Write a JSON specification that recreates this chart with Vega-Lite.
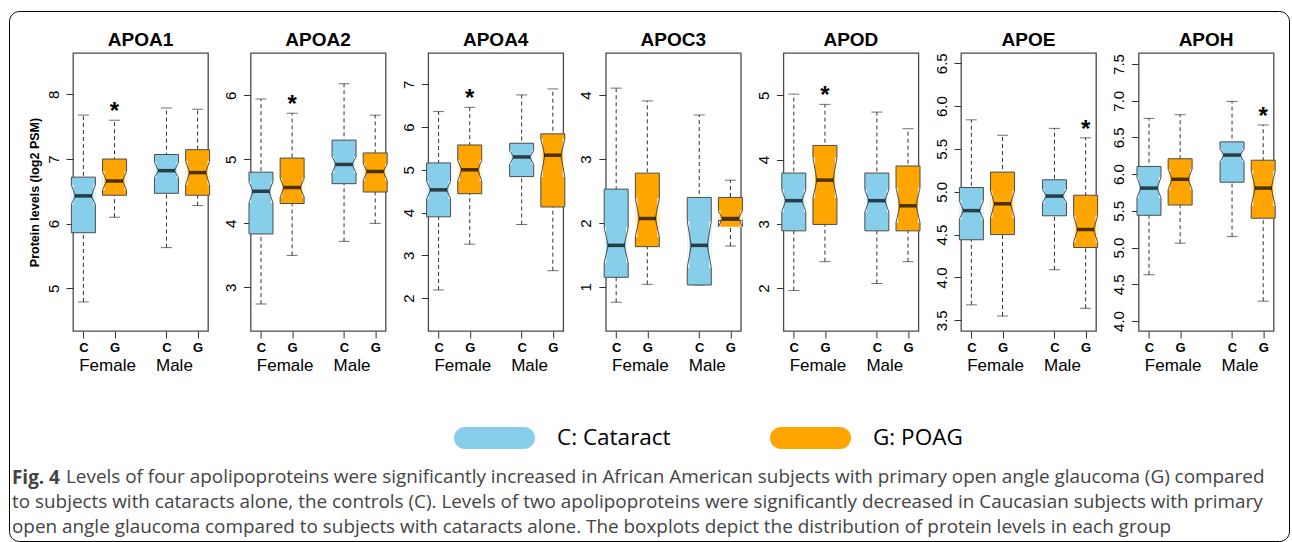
{
"$schema":"https://vega.github.io/schema/vega-lite/v6.json",
"padding":{"left":8,"top":10,"right":0,"bottom":0},
"background":"white",
"datasets":{"apo":[
{"gene":"APOA1","sex":"Female","grp":"C","box":"Female C","lo":4.79,"q1":5.86,"nlo":6.30,"med":6.43,"nhi":6.60,"q3":6.72,"hi":7.68,"sig":false},
{"gene":"APOA1","sex":"Female","grp":"G","box":"Female G","lo":6.10,"q1":6.44,"nlo":6.52,"med":6.66,"nhi":6.81,"q3":7.00,"hi":7.60,"sig":true},
{"gene":"APOA1","sex":"Male","grp":"C","box":"Male C","lo":5.63,"q1":6.47,"nlo":6.71,"med":6.82,"nhi":6.95,"q3":7.07,"hi":7.79,"sig":false},
{"gene":"APOA1","sex":"Male","grp":"G","box":"Male G","lo":6.28,"q1":6.44,"nlo":6.60,"med":6.79,"nhi":6.97,"q3":7.145,"hi":7.77,"sig":false},
{"gene":"APOA2","sex":"Female","grp":"C","box":"Female C","lo":2.74,"q1":3.835,"nlo":4.32,"med":4.50,"nhi":4.65,"q3":4.80,"hi":5.94,"sig":false},
{"gene":"APOA2","sex":"Female","grp":"G","box":"Female G","lo":3.50,"q1":4.31,"nlo":4.41,"med":4.56,"nhi":4.70,"q3":5.02,"hi":5.72,"sig":true},
{"gene":"APOA2","sex":"Male","grp":"C","box":"Male C","lo":3.72,"q1":4.62,"nlo":4.79,"med":4.92,"nhi":5.04,"q3":5.30,"hi":6.18,"sig":false},
{"gene":"APOA2","sex":"Male","grp":"G","box":"Male G","lo":4.00,"q1":4.49,"nlo":4.67,"med":4.81,"nhi":4.93,"q3":5.10,"hi":5.69,"sig":false},
{"gene":"APOA4","sex":"Female","grp":"C","box":"Female C","lo":2.19,"q1":3.90,"nlo":4.32,"med":4.53,"nhi":4.73,"q3":5.16,"hi":6.36,"sig":false},
{"gene":"APOA4","sex":"Female","grp":"G","box":"Female G","lo":3.26,"q1":4.44,"nlo":4.74,"med":5.00,"nhi":5.22,"q3":5.58,"hi":6.46,"sig":true},
{"gene":"APOA4","sex":"Male","grp":"C","box":"Male C","lo":3.72,"q1":4.84,"nlo":5.12,"med":5.30,"nhi":5.45,"q3":5.62,"hi":6.75,"sig":false},
{"gene":"APOA4","sex":"Male","grp":"G","box":"Male G","lo":2.64,"q1":4.13,"nlo":4.83,"med":5.34,"nhi":5.72,"q3":5.84,"hi":6.89,"sig":false},
{"gene":"APOC3","sex":"Female","grp":"C","box":"Female C","lo":0.76,"q1":1.15,"nlo":1.38,"med":1.65,"nhi":1.93,"q3":2.53,"hi":4.11,"sig":false},
{"gene":"APOC3","sex":"Female","grp":"G","box":"Female G","lo":1.04,"q1":1.63,"nlo":1.78,"med":2.07,"nhi":2.385,"q3":2.78,"hi":3.91,"sig":false},
{"gene":"APOC3","sex":"Male","grp":"C","box":"Male C","lo":1.03,"q1":1.03,"nlo":1.30,"med":1.65,"nhi":2.03,"q3":2.40,"hi":3.69,"sig":false},
{"gene":"APOC3","sex":"Male","grp":"G","box":"Male G","lo":1.64,"q1":2.04,"nlo":1.94,"med":2.07,"nhi":2.19,"q3":2.40,"hi":2.67,"sig":false},
{"gene":"APOD","sex":"Female","grp":"C","box":"Female C","lo":1.96,"q1":2.89,"nlo":3.19,"med":3.36,"nhi":3.53,"q3":3.79,"hi":5.02,"sig":false},
{"gene":"APOD","sex":"Female","grp":"G","box":"Female G","lo":2.41,"q1":2.99,"nlo":3.40,"med":3.68,"nhi":4.03,"q3":4.22,"hi":4.86,"sig":true},
{"gene":"APOD","sex":"Male","grp":"C","box":"Male C","lo":2.07,"q1":2.89,"nlo":3.18,"med":3.36,"nhi":3.53,"q3":3.79,"hi":4.74,"sig":false},
{"gene":"APOD","sex":"Male","grp":"G","box":"Male G","lo":2.41,"q1":2.89,"nlo":3.02,"med":3.28,"nhi":3.56,"q3":3.90,"hi":4.48,"sig":false},
{"gene":"APOE","sex":"Female","grp":"C","box":"Female C","lo":3.68,"q1":4.44,"nlo":4.68,"med":4.78,"nhi":4.895,"q3":5.05,"hi":5.84,"sig":false},
{"gene":"APOE","sex":"Female","grp":"G","box":"Female G","lo":3.55,"q1":4.50,"nlo":4.70,"med":4.86,"nhi":5.01,"q3":5.23,"hi":5.66,"sig":false},
{"gene":"APOE","sex":"Male","grp":"C","box":"Male C","lo":4.09,"q1":4.72,"nlo":4.875,"med":4.95,"nhi":5.03,"q3":5.14,"hi":5.74,"sig":false},
{"gene":"APOE","sex":"Male","grp":"G","box":"Male G","lo":3.64,"q1":4.35,"nlo":4.41,"med":4.56,"nhi":4.72,"q3":4.96,"hi":5.63,"sig":true},
{"gene":"APOH","sex":"Female","grp":"C","box":"Female C","lo":4.63,"q1":5.44,"nlo":5.68,"med":5.81,"nhi":5.955,"q3":6.105,"hi":6.76,"sig":false},
{"gene":"APOH","sex":"Female","grp":"G","box":"Female G","lo":5.06,"q1":5.58,"nlo":5.79,"med":5.93,"nhi":6.07,"q3":6.21,"hi":6.81,"sig":false},
{"gene":"APOH","sex":"Male","grp":"C","box":"Male C","lo":5.15,"q1":5.89,"nlo":6.17,"med":6.26,"nhi":6.34,"q3":6.44,"hi":6.99,"sig":false},
{"gene":"APOH","sex":"Male","grp":"G","box":"Male G","lo":4.27,"q1":5.40,"nlo":5.57,"med":5.81,"nhi":6.045,"q3":6.19,"hi":6.67,"sig":true}
]},
"data":{"name":"apo"},
"spacing":93,
"vconcat":[
{"spacing":42.6,"bounds":"flush","hconcat":[
{"width":135,"height":278,"title":"APOA1","transform":[{"filter":"datum.gene === 'APOA1'"}],
"layer":[
{"encoding":{"x":{"field":"box","type":"nominal","scale":{"type":"point","domain":["Female C","f1","f2","Female G","g1","g2","g3","g4","Male C","m1","m2","Male G"],"padding":2.58},"axis":{"values":["Female C","Female G","Male C","Male G"],"labelExpr":"datum.value === 'Female C' || datum.value === 'Male C' ? 'C' : 'G'","title":null,"orient":"bottom","labelAngle":0,"labelFontSize":13,"labelFontWeight":"bold","tickSize":7,"labelPadding":3}}},
"layer":[
{"mark":{"type":"rule","color":"#333","strokeWidth":1,"strokeDash":[4,3]},"encoding":{"y":{"field":"lo","type":"quantitative","scale":{"domain":[4.34,8.64],"nice":false,"zero":false},"axis":{"values":[5,6,7,8],"title":"Protein levels (log2 PSM)","titleFontSize":12.5,"titleFontWeight":"bold","titlePadding":5}},"y2":{"field":"hi"}}},
{"mark":{"type":"tick","orient":"horizontal","size":11,"thickness":1,"color":"#333"},"encoding":{"y":{"field":"lo","type":"quantitative","scale":{"domain":[4.34,8.64],"nice":false,"zero":false},"axis":{"values":[5,6,7,8],"title":"Protein levels (log2 PSM)","titleFontSize":12.5,"titleFontWeight":"bold","titlePadding":5}}}},
{"mark":{"type":"tick","orient":"horizontal","size":11,"thickness":1,"color":"#333"},"encoding":{"y":{"field":"hi","type":"quantitative","scale":{"domain":[4.34,8.64],"nice":false,"zero":false},"axis":{"values":[5,6,7,8],"title":"Protein levels (log2 PSM)","titleFontSize":12.5,"titleFontWeight":"bold","titlePadding":5}}}},
{"mark":{"type":"bar","width":24},"encoding":{"y":{"field":"q1","type":"quantitative","scale":{"domain":[4.34,8.64],"nice":false,"zero":false},"axis":{"values":[5,6,7,8],"title":"Protein levels (log2 PSM)","titleFontSize":12.5,"titleFontWeight":"bold","titlePadding":5}},"y2":{"field":"q3"},"color":{"field":"grp","type":"nominal","scale":{"domain":["C","G"],"range":["#87CEEB","#FFA500"]},"legend":{"orient":"none","legendX":381,"legendY":344.5,"direction":"horizontal","title":null,"symbolType":"M -0.7284 -0.2716 L 0.7284 -0.2716 A 0.2716 0.2716 0 0 1 0.7284 0.2716 L -0.7284 0.2716 A 0.2716 0.2716 0 0 1 -0.7284 -0.2716 Z","symbolSize":6561,"symbolStrokeWidth":0,"symbolOpacity":1,"labelFont":"Open Sans","labelFontSize":22.5,"labelColor":"black","labelOffset":22,"columnPadding":98,"labelExpr":"datum.value === 'C' ? 'C: Cataract' : 'G: POAG'"}}}},
{"mark":{"type":"bar","width":2,"xOffset":-11,"color":"white"},"encoding":{"y":{"field":"nlo","type":"quantitative","scale":{"domain":[4.34,8.64],"nice":false,"zero":false},"axis":{"values":[5,6,7,8],"title":"Protein levels (log2 PSM)","titleFontSize":12.5,"titleFontWeight":"bold","titlePadding":5}},"y2":{"field":"nhi"}}},
{"mark":{"type":"bar","width":2,"xOffset":11,"color":"white"},"encoding":{"y":{"field":"nlo","type":"quantitative","scale":{"domain":[4.34,8.64],"nice":false,"zero":false},"axis":{"values":[5,6,7,8],"title":"Protein levels (log2 PSM)","titleFontSize":12.5,"titleFontWeight":"bold","titlePadding":5}},"y2":{"field":"nhi"}}},
{"mark":{"type":"rule","color":"#4d4d4d","xOffset":-12,"x2Offset":12},"encoding":{"x2":{"field":"box"},"y":{"field":"q1","type":"quantitative","scale":{"domain":[4.34,8.64],"nice":false,"zero":false},"axis":{"values":[5,6,7,8],"title":"Protein levels (log2 PSM)","titleFontSize":12.5,"titleFontWeight":"bold","titlePadding":5}}}},
{"mark":{"type":"rule","color":"#4d4d4d","xOffset":-12,"x2Offset":12},"encoding":{"x2":{"field":"box"},"y":{"field":"q3","type":"quantitative","scale":{"domain":[4.34,8.64],"nice":false,"zero":false},"axis":{"values":[5,6,7,8],"title":"Protein levels (log2 PSM)","titleFontSize":12.5,"titleFontWeight":"bold","titlePadding":5}}}},
{"mark":{"type":"rule","color":"#4d4d4d","xOffset":-12},"encoding":{"y":{"field":"q1","type":"quantitative","scale":{"domain":[4.34,8.64],"nice":false,"zero":false},"axis":{"values":[5,6,7,8],"title":"Protein levels (log2 PSM)","titleFontSize":12.5,"titleFontWeight":"bold","titlePadding":5}},"y2":{"field":"nlo"}}},
{"mark":{"type":"rule","color":"#4d4d4d","xOffset":-12},"encoding":{"y":{"field":"nhi","type":"quantitative","scale":{"domain":[4.34,8.64],"nice":false,"zero":false},"axis":{"values":[5,6,7,8],"title":"Protein levels (log2 PSM)","titleFontSize":12.5,"titleFontWeight":"bold","titlePadding":5}},"y2":{"field":"q3"}}},
{"mark":{"type":"rule","color":"#4d4d4d","xOffset":12},"encoding":{"y":{"field":"q1","type":"quantitative","scale":{"domain":[4.34,8.64],"nice":false,"zero":false},"axis":{"values":[5,6,7,8],"title":"Protein levels (log2 PSM)","titleFontSize":12.5,"titleFontWeight":"bold","titlePadding":5}},"y2":{"field":"nlo"}}},
{"mark":{"type":"rule","color":"#4d4d4d","xOffset":12},"encoding":{"y":{"field":"nhi","type":"quantitative","scale":{"domain":[4.34,8.64],"nice":false,"zero":false},"axis":{"values":[5,6,7,8],"title":"Protein levels (log2 PSM)","titleFontSize":12.5,"titleFontWeight":"bold","titlePadding":5}},"y2":{"field":"q3"}}},
{"mark":{"type":"rule","color":"#4d4d4d","xOffset":-12,"x2Offset":-8},"encoding":{"x2":{"field":"box"},"y":{"field":"nlo","type":"quantitative","scale":{"domain":[4.34,8.64],"nice":false,"zero":false},"axis":{"values":[5,6,7,8],"title":"Protein levels (log2 PSM)","titleFontSize":12.5,"titleFontWeight":"bold","titlePadding":5}},"y2":{"field":"med"}}},
{"mark":{"type":"rule","color":"#4d4d4d","xOffset":-12,"x2Offset":-8},"encoding":{"x2":{"field":"box"},"y":{"field":"nhi","type":"quantitative","scale":{"domain":[4.34,8.64],"nice":false,"zero":false},"axis":{"values":[5,6,7,8],"title":"Protein levels (log2 PSM)","titleFontSize":12.5,"titleFontWeight":"bold","titlePadding":5}},"y2":{"field":"med"}}},
{"mark":{"type":"rule","color":"#4d4d4d","xOffset":12,"x2Offset":8},"encoding":{"x2":{"field":"box"},"y":{"field":"nlo","type":"quantitative","scale":{"domain":[4.34,8.64],"nice":false,"zero":false},"axis":{"values":[5,6,7,8],"title":"Protein levels (log2 PSM)","titleFontSize":12.5,"titleFontWeight":"bold","titlePadding":5}},"y2":{"field":"med"}}},
{"mark":{"type":"rule","color":"#4d4d4d","xOffset":12,"x2Offset":8},"encoding":{"x2":{"field":"box"},"y":{"field":"nhi","type":"quantitative","scale":{"domain":[4.34,8.64],"nice":false,"zero":false},"axis":{"values":[5,6,7,8],"title":"Protein levels (log2 PSM)","titleFontSize":12.5,"titleFontWeight":"bold","titlePadding":5}},"y2":{"field":"med"}}},
{"mark":{"type":"tick","orient":"horizontal","size":17,"thickness":3.5,"color":"black"},"encoding":{"y":{"field":"med","type":"quantitative","scale":{"domain":[4.34,8.64],"nice":false,"zero":false},"axis":{"values":[5,6,7,8],"title":"Protein levels (log2 PSM)","titleFontSize":12.5,"titleFontWeight":"bold","titlePadding":5}}}},
{"transform":[{"filter":"datum.sig"}],"mark":{"type":"text","text":"*","fontSize":24,"fontWeight":"bold","baseline":"middle","dy":-8},"encoding":{"y":{"field":"hi","type":"quantitative","scale":{"domain":[4.34,8.64],"nice":false,"zero":false},"axis":{"values":[5,6,7,8],"title":"Protein levels (log2 PSM)","titleFontSize":12.5,"titleFontWeight":"bold","titlePadding":5}}}}
]},
{"mark":{"type":"tick","opacity":0},"encoding":{"x":{"field":"sex","type":"nominal","scale":{"type":"point","domain":["Female","Male"],"padding":0.51},"axis":{"orient":"bottom","title":null,"labelAngle":0,"labelFontSize":17,"ticks":false,"tickSize":0,"labelPadding":2,"offset":24}},
"stroke":{"field":"hi","type":"quantitative","scale":{"range":["rgba(255,255,255,0)","rgba(255,255,255,0)"]},"legend":{"type":"gradient","orient":"none","legendX":-64,"legendY":-42,"direction":"horizontal","title":["Fig. 4","\u00a0","\u00a0"],"titleOrient":"bottom","titleAnchor":"start","titleFont":"Open Sans","titleFontSize":18.9,"titleFontWeight":"bold","titleColor":"#444","titleLineHeight":25,"titlePadding":0,"titleLimit":0,"gradientLength":1274,"gradientThickness":454,"gradientStrokeWidth":0,"labelExpr":"''","labelFontSize":1,"labelOffset":0,"padding":3,"strokeColor":"#000","cornerRadius":10}}}}
],
"resolve":{"scale":{"x":"independent"},"axis":{"x":"independent"}}},

{"width":135,"height":278,"title":"APOA2","transform":[{"filter":"datum.gene === 'APOA2'"}],
"layer":[
{"encoding":{"x":{"field":"box","type":"nominal","scale":{"type":"point","domain":["Female C","f1","f2","Female G","g1","g2","g3","g4","Male C","m1","m2","Male G"],"padding":2.58},"axis":{"values":["Female C","Female G","Male C","Male G"],"labelExpr":"datum.value === 'Female C' || datum.value === 'Male C' ? 'C' : 'G'","title":null,"orient":"bottom","labelAngle":0,"labelFontSize":13,"labelFontWeight":"bold","tickSize":7,"labelPadding":3}}},
"layer":[
{"mark":{"type":"rule","color":"#333","strokeWidth":1,"strokeDash":[4,3]},"encoding":{"y":{"field":"lo","type":"quantitative","title":null,"scale":{"domain":[2.32,6.66],"nice":false,"zero":false},"axis":{"values":[3,4,5,6]}},"y2":{"field":"hi"}}},
{"mark":{"type":"tick","orient":"horizontal","size":11,"thickness":1,"color":"#333"},"encoding":{"y":{"field":"lo","type":"quantitative","title":null,"scale":{"domain":[2.32,6.66],"nice":false,"zero":false},"axis":{"values":[3,4,5,6]}}}},
{"mark":{"type":"tick","orient":"horizontal","size":11,"thickness":1,"color":"#333"},"encoding":{"y":{"field":"hi","type":"quantitative","title":null,"scale":{"domain":[2.32,6.66],"nice":false,"zero":false},"axis":{"values":[3,4,5,6]}}}},
{"mark":{"type":"bar","width":24},"encoding":{"y":{"field":"q1","type":"quantitative","title":null,"scale":{"domain":[2.32,6.66],"nice":false,"zero":false},"axis":{"values":[3,4,5,6]}},"y2":{"field":"q3"},"color":{"field":"grp","type":"nominal","scale":{"domain":["C","G"],"range":["#87CEEB","#FFA500"]}}}},
{"mark":{"type":"bar","width":2,"xOffset":-11,"color":"white"},"encoding":{"y":{"field":"nlo","type":"quantitative","title":null,"scale":{"domain":[2.32,6.66],"nice":false,"zero":false},"axis":{"values":[3,4,5,6]}},"y2":{"field":"nhi"}}},
{"mark":{"type":"bar","width":2,"xOffset":11,"color":"white"},"encoding":{"y":{"field":"nlo","type":"quantitative","title":null,"scale":{"domain":[2.32,6.66],"nice":false,"zero":false},"axis":{"values":[3,4,5,6]}},"y2":{"field":"nhi"}}},
{"mark":{"type":"rule","color":"#4d4d4d","xOffset":-12,"x2Offset":12},"encoding":{"x2":{"field":"box"},"y":{"field":"q1","type":"quantitative","title":null,"scale":{"domain":[2.32,6.66],"nice":false,"zero":false},"axis":{"values":[3,4,5,6]}}}},
{"mark":{"type":"rule","color":"#4d4d4d","xOffset":-12,"x2Offset":12},"encoding":{"x2":{"field":"box"},"y":{"field":"q3","type":"quantitative","title":null,"scale":{"domain":[2.32,6.66],"nice":false,"zero":false},"axis":{"values":[3,4,5,6]}}}},
{"mark":{"type":"rule","color":"#4d4d4d","xOffset":-12},"encoding":{"y":{"field":"q1","type":"quantitative","title":null,"scale":{"domain":[2.32,6.66],"nice":false,"zero":false},"axis":{"values":[3,4,5,6]}},"y2":{"field":"nlo"}}},
{"mark":{"type":"rule","color":"#4d4d4d","xOffset":-12},"encoding":{"y":{"field":"nhi","type":"quantitative","title":null,"scale":{"domain":[2.32,6.66],"nice":false,"zero":false},"axis":{"values":[3,4,5,6]}},"y2":{"field":"q3"}}},
{"mark":{"type":"rule","color":"#4d4d4d","xOffset":12},"encoding":{"y":{"field":"q1","type":"quantitative","title":null,"scale":{"domain":[2.32,6.66],"nice":false,"zero":false},"axis":{"values":[3,4,5,6]}},"y2":{"field":"nlo"}}},
{"mark":{"type":"rule","color":"#4d4d4d","xOffset":12},"encoding":{"y":{"field":"nhi","type":"quantitative","title":null,"scale":{"domain":[2.32,6.66],"nice":false,"zero":false},"axis":{"values":[3,4,5,6]}},"y2":{"field":"q3"}}},
{"mark":{"type":"rule","color":"#4d4d4d","xOffset":-12,"x2Offset":-8},"encoding":{"x2":{"field":"box"},"y":{"field":"nlo","type":"quantitative","title":null,"scale":{"domain":[2.32,6.66],"nice":false,"zero":false},"axis":{"values":[3,4,5,6]}},"y2":{"field":"med"}}},
{"mark":{"type":"rule","color":"#4d4d4d","xOffset":-12,"x2Offset":-8},"encoding":{"x2":{"field":"box"},"y":{"field":"nhi","type":"quantitative","title":null,"scale":{"domain":[2.32,6.66],"nice":false,"zero":false},"axis":{"values":[3,4,5,6]}},"y2":{"field":"med"}}},
{"mark":{"type":"rule","color":"#4d4d4d","xOffset":12,"x2Offset":8},"encoding":{"x2":{"field":"box"},"y":{"field":"nlo","type":"quantitative","title":null,"scale":{"domain":[2.32,6.66],"nice":false,"zero":false},"axis":{"values":[3,4,5,6]}},"y2":{"field":"med"}}},
{"mark":{"type":"rule","color":"#4d4d4d","xOffset":12,"x2Offset":8},"encoding":{"x2":{"field":"box"},"y":{"field":"nhi","type":"quantitative","title":null,"scale":{"domain":[2.32,6.66],"nice":false,"zero":false},"axis":{"values":[3,4,5,6]}},"y2":{"field":"med"}}},
{"mark":{"type":"tick","orient":"horizontal","size":17,"thickness":3.5,"color":"black"},"encoding":{"y":{"field":"med","type":"quantitative","title":null,"scale":{"domain":[2.32,6.66],"nice":false,"zero":false},"axis":{"values":[3,4,5,6]}}}},
{"transform":[{"filter":"datum.sig"}],"mark":{"type":"text","text":"*","fontSize":24,"fontWeight":"bold","baseline":"middle","dy":-8},"encoding":{"y":{"field":"hi","type":"quantitative","title":null,"scale":{"domain":[2.32,6.66],"nice":false,"zero":false},"axis":{"values":[3,4,5,6]}}}}
]},
{"mark":{"type":"tick","opacity":0},"encoding":{"x":{"field":"sex","type":"nominal","scale":{"type":"point","domain":["Female","Male"],"padding":0.51},"axis":{"orient":"bottom","title":null,"labelAngle":0,"labelFontSize":17,"ticks":false,"tickSize":0,"labelPadding":2,"offset":24}}}}
],
"resolve":{"scale":{"x":"independent"},"axis":{"x":"independent"}}},

{"width":135,"height":278,"title":"APOA4","transform":[{"filter":"datum.gene === 'APOA4'"}],
"layer":[
{"encoding":{"x":{"field":"box","type":"nominal","scale":{"type":"point","domain":["Female C","f1","f2","Female G","g1","g2","g3","g4","Male C","m1","m2","Male G"],"padding":2.58},"axis":{"values":["Female C","Female G","Male C","Male G"],"labelExpr":"datum.value === 'Female C' || datum.value === 'Male C' ? 'C' : 'G'","title":null,"orient":"bottom","labelAngle":0,"labelFontSize":13,"labelFontWeight":"bold","tickSize":7,"labelPadding":3}}},
"layer":[
{"mark":{"type":"rule","color":"#333","strokeWidth":1,"strokeDash":[4,3]},"encoding":{"y":{"field":"lo","type":"quantitative","title":null,"scale":{"domain":[1.23,7.73],"nice":false,"zero":false},"axis":{"values":[2,3,4,5,6,7]}},"y2":{"field":"hi"}}},
{"mark":{"type":"tick","orient":"horizontal","size":11,"thickness":1,"color":"#333"},"encoding":{"y":{"field":"lo","type":"quantitative","title":null,"scale":{"domain":[1.23,7.73],"nice":false,"zero":false},"axis":{"values":[2,3,4,5,6,7]}}}},
{"mark":{"type":"tick","orient":"horizontal","size":11,"thickness":1,"color":"#333"},"encoding":{"y":{"field":"hi","type":"quantitative","title":null,"scale":{"domain":[1.23,7.73],"nice":false,"zero":false},"axis":{"values":[2,3,4,5,6,7]}}}},
{"mark":{"type":"bar","width":24},"encoding":{"y":{"field":"q1","type":"quantitative","title":null,"scale":{"domain":[1.23,7.73],"nice":false,"zero":false},"axis":{"values":[2,3,4,5,6,7]}},"y2":{"field":"q3"},"color":{"field":"grp","type":"nominal","scale":{"domain":["C","G"],"range":["#87CEEB","#FFA500"]}}}},
{"mark":{"type":"bar","width":2,"xOffset":-11,"color":"white"},"encoding":{"y":{"field":"nlo","type":"quantitative","title":null,"scale":{"domain":[1.23,7.73],"nice":false,"zero":false},"axis":{"values":[2,3,4,5,6,7]}},"y2":{"field":"nhi"}}},
{"mark":{"type":"bar","width":2,"xOffset":11,"color":"white"},"encoding":{"y":{"field":"nlo","type":"quantitative","title":null,"scale":{"domain":[1.23,7.73],"nice":false,"zero":false},"axis":{"values":[2,3,4,5,6,7]}},"y2":{"field":"nhi"}}},
{"mark":{"type":"rule","color":"#4d4d4d","xOffset":-12,"x2Offset":12},"encoding":{"x2":{"field":"box"},"y":{"field":"q1","type":"quantitative","title":null,"scale":{"domain":[1.23,7.73],"nice":false,"zero":false},"axis":{"values":[2,3,4,5,6,7]}}}},
{"mark":{"type":"rule","color":"#4d4d4d","xOffset":-12,"x2Offset":12},"encoding":{"x2":{"field":"box"},"y":{"field":"q3","type":"quantitative","title":null,"scale":{"domain":[1.23,7.73],"nice":false,"zero":false},"axis":{"values":[2,3,4,5,6,7]}}}},
{"mark":{"type":"rule","color":"#4d4d4d","xOffset":-12},"encoding":{"y":{"field":"q1","type":"quantitative","title":null,"scale":{"domain":[1.23,7.73],"nice":false,"zero":false},"axis":{"values":[2,3,4,5,6,7]}},"y2":{"field":"nlo"}}},
{"mark":{"type":"rule","color":"#4d4d4d","xOffset":-12},"encoding":{"y":{"field":"nhi","type":"quantitative","title":null,"scale":{"domain":[1.23,7.73],"nice":false,"zero":false},"axis":{"values":[2,3,4,5,6,7]}},"y2":{"field":"q3"}}},
{"mark":{"type":"rule","color":"#4d4d4d","xOffset":12},"encoding":{"y":{"field":"q1","type":"quantitative","title":null,"scale":{"domain":[1.23,7.73],"nice":false,"zero":false},"axis":{"values":[2,3,4,5,6,7]}},"y2":{"field":"nlo"}}},
{"mark":{"type":"rule","color":"#4d4d4d","xOffset":12},"encoding":{"y":{"field":"nhi","type":"quantitative","title":null,"scale":{"domain":[1.23,7.73],"nice":false,"zero":false},"axis":{"values":[2,3,4,5,6,7]}},"y2":{"field":"q3"}}},
{"mark":{"type":"rule","color":"#4d4d4d","xOffset":-12,"x2Offset":-8},"encoding":{"x2":{"field":"box"},"y":{"field":"nlo","type":"quantitative","title":null,"scale":{"domain":[1.23,7.73],"nice":false,"zero":false},"axis":{"values":[2,3,4,5,6,7]}},"y2":{"field":"med"}}},
{"mark":{"type":"rule","color":"#4d4d4d","xOffset":-12,"x2Offset":-8},"encoding":{"x2":{"field":"box"},"y":{"field":"nhi","type":"quantitative","title":null,"scale":{"domain":[1.23,7.73],"nice":false,"zero":false},"axis":{"values":[2,3,4,5,6,7]}},"y2":{"field":"med"}}},
{"mark":{"type":"rule","color":"#4d4d4d","xOffset":12,"x2Offset":8},"encoding":{"x2":{"field":"box"},"y":{"field":"nlo","type":"quantitative","title":null,"scale":{"domain":[1.23,7.73],"nice":false,"zero":false},"axis":{"values":[2,3,4,5,6,7]}},"y2":{"field":"med"}}},
{"mark":{"type":"rule","color":"#4d4d4d","xOffset":12,"x2Offset":8},"encoding":{"x2":{"field":"box"},"y":{"field":"nhi","type":"quantitative","title":null,"scale":{"domain":[1.23,7.73],"nice":false,"zero":false},"axis":{"values":[2,3,4,5,6,7]}},"y2":{"field":"med"}}},
{"mark":{"type":"tick","orient":"horizontal","size":17,"thickness":3.5,"color":"black"},"encoding":{"y":{"field":"med","type":"quantitative","title":null,"scale":{"domain":[1.23,7.73],"nice":false,"zero":false},"axis":{"values":[2,3,4,5,6,7]}}}},
{"transform":[{"filter":"datum.sig"}],"mark":{"type":"text","text":"*","fontSize":24,"fontWeight":"bold","baseline":"middle","dy":-8},"encoding":{"y":{"field":"hi","type":"quantitative","title":null,"scale":{"domain":[1.23,7.73],"nice":false,"zero":false},"axis":{"values":[2,3,4,5,6,7]}}}}
]},
{"mark":{"type":"tick","opacity":0},"encoding":{"x":{"field":"sex","type":"nominal","scale":{"type":"point","domain":["Female","Male"],"padding":0.51},"axis":{"orient":"bottom","title":null,"labelAngle":0,"labelFontSize":17,"ticks":false,"tickSize":0,"labelPadding":2,"offset":24}}}}
],
"resolve":{"scale":{"x":"independent"},"axis":{"x":"independent"}}},

{"width":135,"height":278,"title":"APOC3","transform":[{"filter":"datum.gene === 'APOC3'"}],
"layer":[
{"encoding":{"x":{"field":"box","type":"nominal","scale":{"type":"point","domain":["Female C","f1","f2","Female G","g1","g2","g3","g4","Male C","m1","m2","Male G"],"padding":2.58},"axis":{"values":["Female C","Female G","Male C","Male G"],"labelExpr":"datum.value === 'Female C' || datum.value === 'Male C' ? 'C' : 'G'","title":null,"orient":"bottom","labelAngle":0,"labelFontSize":13,"labelFontWeight":"bold","tickSize":7,"labelPadding":3}}},
"layer":[
{"mark":{"type":"rule","color":"#333","strokeWidth":1,"strokeDash":[4,3]},"encoding":{"y":{"field":"lo","type":"quantitative","title":null,"scale":{"domain":[0.31,4.66],"nice":false,"zero":false},"axis":{"values":[1,2,3,4]}},"y2":{"field":"hi"}}},
{"mark":{"type":"tick","orient":"horizontal","size":11,"thickness":1,"color":"#333"},"encoding":{"y":{"field":"lo","type":"quantitative","title":null,"scale":{"domain":[0.31,4.66],"nice":false,"zero":false},"axis":{"values":[1,2,3,4]}}}},
{"mark":{"type":"tick","orient":"horizontal","size":11,"thickness":1,"color":"#333"},"encoding":{"y":{"field":"hi","type":"quantitative","title":null,"scale":{"domain":[0.31,4.66],"nice":false,"zero":false},"axis":{"values":[1,2,3,4]}}}},
{"mark":{"type":"bar","width":24},"encoding":{"y":{"field":"q1","type":"quantitative","title":null,"scale":{"domain":[0.31,4.66],"nice":false,"zero":false},"axis":{"values":[1,2,3,4]}},"y2":{"field":"q3"},"color":{"field":"grp","type":"nominal","scale":{"domain":["C","G"],"range":["#87CEEB","#FFA500"]}}}},
{"mark":{"type":"bar","width":24},"encoding":{"y":{"field":"q1","type":"quantitative","title":null,"scale":{"domain":[0.31,4.66],"nice":false,"zero":false},"axis":{"values":[1,2,3,4]}},"y2":{"field":"nlo"},"color":{"field":"grp","type":"nominal","scale":{"domain":["C","G"],"range":["#87CEEB","#FFA500"]}}}},
{"mark":{"type":"bar","width":2,"xOffset":-11,"color":"white"},"encoding":{"y":{"field":"nlo","type":"quantitative","title":null,"scale":{"domain":[0.31,4.66],"nice":false,"zero":false},"axis":{"values":[1,2,3,4]}},"y2":{"field":"nhi"}}},
{"mark":{"type":"bar","width":2,"xOffset":11,"color":"white"},"encoding":{"y":{"field":"nlo","type":"quantitative","title":null,"scale":{"domain":[0.31,4.66],"nice":false,"zero":false},"axis":{"values":[1,2,3,4]}},"y2":{"field":"nhi"}}},
{"mark":{"type":"rule","color":"#4d4d4d","xOffset":-12,"x2Offset":12},"encoding":{"x2":{"field":"box"},"y":{"field":"q1","type":"quantitative","title":null,"scale":{"domain":[0.31,4.66],"nice":false,"zero":false},"axis":{"values":[1,2,3,4]}}}},
{"mark":{"type":"rule","color":"#4d4d4d","xOffset":-12,"x2Offset":12},"encoding":{"x2":{"field":"box"},"y":{"field":"q3","type":"quantitative","title":null,"scale":{"domain":[0.31,4.66],"nice":false,"zero":false},"axis":{"values":[1,2,3,4]}}}},
{"mark":{"type":"rule","color":"#4d4d4d","xOffset":-12},"encoding":{"y":{"field":"q1","type":"quantitative","title":null,"scale":{"domain":[0.31,4.66],"nice":false,"zero":false},"axis":{"values":[1,2,3,4]}},"y2":{"field":"nlo"}}},
{"mark":{"type":"rule","color":"#4d4d4d","xOffset":-12},"encoding":{"y":{"field":"nhi","type":"quantitative","title":null,"scale":{"domain":[0.31,4.66],"nice":false,"zero":false},"axis":{"values":[1,2,3,4]}},"y2":{"field":"q3"}}},
{"mark":{"type":"rule","color":"#4d4d4d","xOffset":12},"encoding":{"y":{"field":"q1","type":"quantitative","title":null,"scale":{"domain":[0.31,4.66],"nice":false,"zero":false},"axis":{"values":[1,2,3,4]}},"y2":{"field":"nlo"}}},
{"mark":{"type":"rule","color":"#4d4d4d","xOffset":12},"encoding":{"y":{"field":"nhi","type":"quantitative","title":null,"scale":{"domain":[0.31,4.66],"nice":false,"zero":false},"axis":{"values":[1,2,3,4]}},"y2":{"field":"q3"}}},
{"mark":{"type":"rule","color":"#4d4d4d","xOffset":-12,"x2Offset":-8},"encoding":{"x2":{"field":"box"},"y":{"field":"nlo","type":"quantitative","title":null,"scale":{"domain":[0.31,4.66],"nice":false,"zero":false},"axis":{"values":[1,2,3,4]}},"y2":{"field":"med"}}},
{"mark":{"type":"rule","color":"#4d4d4d","xOffset":-12,"x2Offset":-8},"encoding":{"x2":{"field":"box"},"y":{"field":"nhi","type":"quantitative","title":null,"scale":{"domain":[0.31,4.66],"nice":false,"zero":false},"axis":{"values":[1,2,3,4]}},"y2":{"field":"med"}}},
{"mark":{"type":"rule","color":"#4d4d4d","xOffset":12,"x2Offset":8},"encoding":{"x2":{"field":"box"},"y":{"field":"nlo","type":"quantitative","title":null,"scale":{"domain":[0.31,4.66],"nice":false,"zero":false},"axis":{"values":[1,2,3,4]}},"y2":{"field":"med"}}},
{"mark":{"type":"rule","color":"#4d4d4d","xOffset":12,"x2Offset":8},"encoding":{"x2":{"field":"box"},"y":{"field":"nhi","type":"quantitative","title":null,"scale":{"domain":[0.31,4.66],"nice":false,"zero":false},"axis":{"values":[1,2,3,4]}},"y2":{"field":"med"}}},
{"mark":{"type":"tick","orient":"horizontal","size":17,"thickness":3.5,"color":"black"},"encoding":{"y":{"field":"med","type":"quantitative","title":null,"scale":{"domain":[0.31,4.66],"nice":false,"zero":false},"axis":{"values":[1,2,3,4]}}}},
{"transform":[{"filter":"datum.sig"}],"mark":{"type":"text","text":"*","fontSize":24,"fontWeight":"bold","baseline":"middle","dy":-8},"encoding":{"y":{"field":"hi","type":"quantitative","title":null,"scale":{"domain":[0.31,4.66],"nice":false,"zero":false},"axis":{"values":[1,2,3,4]}}}}
]},
{"mark":{"type":"tick","opacity":0},"encoding":{"x":{"field":"sex","type":"nominal","scale":{"type":"point","domain":["Female","Male"],"padding":0.51},"axis":{"orient":"bottom","title":null,"labelAngle":0,"labelFontSize":17,"ticks":false,"tickSize":0,"labelPadding":2,"offset":24}}}}
],
"resolve":{"scale":{"x":"independent"},"axis":{"x":"independent"}}},

{"width":135,"height":278,"title":"APOD","transform":[{"filter":"datum.gene === 'APOD'"}],
"layer":[
{"encoding":{"x":{"field":"box","type":"nominal","scale":{"type":"point","domain":["Female C","f1","f2","Female G","g1","g2","g3","g4","Male C","m1","m2","Male G"],"padding":2.58},"axis":{"values":["Female C","Female G","Male C","Male G"],"labelExpr":"datum.value === 'Female C' || datum.value === 'Male C' ? 'C' : 'G'","title":null,"orient":"bottom","labelAngle":0,"labelFontSize":13,"labelFontWeight":"bold","tickSize":7,"labelPadding":3}}},
"layer":[
{"mark":{"type":"rule","color":"#333","strokeWidth":1,"strokeDash":[4,3]},"encoding":{"y":{"field":"lo","type":"quantitative","title":null,"scale":{"domain":[1.33,5.66],"nice":false,"zero":false},"axis":{"values":[2,3,4,5]}},"y2":{"field":"hi"}}},
{"mark":{"type":"tick","orient":"horizontal","size":11,"thickness":1,"color":"#333"},"encoding":{"y":{"field":"lo","type":"quantitative","title":null,"scale":{"domain":[1.33,5.66],"nice":false,"zero":false},"axis":{"values":[2,3,4,5]}}}},
{"mark":{"type":"tick","orient":"horizontal","size":11,"thickness":1,"color":"#333"},"encoding":{"y":{"field":"hi","type":"quantitative","title":null,"scale":{"domain":[1.33,5.66],"nice":false,"zero":false},"axis":{"values":[2,3,4,5]}}}},
{"mark":{"type":"bar","width":24},"encoding":{"y":{"field":"q1","type":"quantitative","title":null,"scale":{"domain":[1.33,5.66],"nice":false,"zero":false},"axis":{"values":[2,3,4,5]}},"y2":{"field":"q3"},"color":{"field":"grp","type":"nominal","scale":{"domain":["C","G"],"range":["#87CEEB","#FFA500"]}}}},
{"mark":{"type":"bar","width":2,"xOffset":-11,"color":"white"},"encoding":{"y":{"field":"nlo","type":"quantitative","title":null,"scale":{"domain":[1.33,5.66],"nice":false,"zero":false},"axis":{"values":[2,3,4,5]}},"y2":{"field":"nhi"}}},
{"mark":{"type":"bar","width":2,"xOffset":11,"color":"white"},"encoding":{"y":{"field":"nlo","type":"quantitative","title":null,"scale":{"domain":[1.33,5.66],"nice":false,"zero":false},"axis":{"values":[2,3,4,5]}},"y2":{"field":"nhi"}}},
{"mark":{"type":"rule","color":"#4d4d4d","xOffset":-12,"x2Offset":12},"encoding":{"x2":{"field":"box"},"y":{"field":"q1","type":"quantitative","title":null,"scale":{"domain":[1.33,5.66],"nice":false,"zero":false},"axis":{"values":[2,3,4,5]}}}},
{"mark":{"type":"rule","color":"#4d4d4d","xOffset":-12,"x2Offset":12},"encoding":{"x2":{"field":"box"},"y":{"field":"q3","type":"quantitative","title":null,"scale":{"domain":[1.33,5.66],"nice":false,"zero":false},"axis":{"values":[2,3,4,5]}}}},
{"mark":{"type":"rule","color":"#4d4d4d","xOffset":-12},"encoding":{"y":{"field":"q1","type":"quantitative","title":null,"scale":{"domain":[1.33,5.66],"nice":false,"zero":false},"axis":{"values":[2,3,4,5]}},"y2":{"field":"nlo"}}},
{"mark":{"type":"rule","color":"#4d4d4d","xOffset":-12},"encoding":{"y":{"field":"nhi","type":"quantitative","title":null,"scale":{"domain":[1.33,5.66],"nice":false,"zero":false},"axis":{"values":[2,3,4,5]}},"y2":{"field":"q3"}}},
{"mark":{"type":"rule","color":"#4d4d4d","xOffset":12},"encoding":{"y":{"field":"q1","type":"quantitative","title":null,"scale":{"domain":[1.33,5.66],"nice":false,"zero":false},"axis":{"values":[2,3,4,5]}},"y2":{"field":"nlo"}}},
{"mark":{"type":"rule","color":"#4d4d4d","xOffset":12},"encoding":{"y":{"field":"nhi","type":"quantitative","title":null,"scale":{"domain":[1.33,5.66],"nice":false,"zero":false},"axis":{"values":[2,3,4,5]}},"y2":{"field":"q3"}}},
{"mark":{"type":"rule","color":"#4d4d4d","xOffset":-12,"x2Offset":-8},"encoding":{"x2":{"field":"box"},"y":{"field":"nlo","type":"quantitative","title":null,"scale":{"domain":[1.33,5.66],"nice":false,"zero":false},"axis":{"values":[2,3,4,5]}},"y2":{"field":"med"}}},
{"mark":{"type":"rule","color":"#4d4d4d","xOffset":-12,"x2Offset":-8},"encoding":{"x2":{"field":"box"},"y":{"field":"nhi","type":"quantitative","title":null,"scale":{"domain":[1.33,5.66],"nice":false,"zero":false},"axis":{"values":[2,3,4,5]}},"y2":{"field":"med"}}},
{"mark":{"type":"rule","color":"#4d4d4d","xOffset":12,"x2Offset":8},"encoding":{"x2":{"field":"box"},"y":{"field":"nlo","type":"quantitative","title":null,"scale":{"domain":[1.33,5.66],"nice":false,"zero":false},"axis":{"values":[2,3,4,5]}},"y2":{"field":"med"}}},
{"mark":{"type":"rule","color":"#4d4d4d","xOffset":12,"x2Offset":8},"encoding":{"x2":{"field":"box"},"y":{"field":"nhi","type":"quantitative","title":null,"scale":{"domain":[1.33,5.66],"nice":false,"zero":false},"axis":{"values":[2,3,4,5]}},"y2":{"field":"med"}}},
{"mark":{"type":"tick","orient":"horizontal","size":17,"thickness":3.5,"color":"black"},"encoding":{"y":{"field":"med","type":"quantitative","title":null,"scale":{"domain":[1.33,5.66],"nice":false,"zero":false},"axis":{"values":[2,3,4,5]}}}},
{"transform":[{"filter":"datum.sig"}],"mark":{"type":"text","text":"*","fontSize":24,"fontWeight":"bold","baseline":"middle","dy":-8},"encoding":{"y":{"field":"hi","type":"quantitative","title":null,"scale":{"domain":[1.33,5.66],"nice":false,"zero":false},"axis":{"values":[2,3,4,5]}}}}
]},
{"mark":{"type":"tick","opacity":0},"encoding":{"x":{"field":"sex","type":"nominal","scale":{"type":"point","domain":["Female","Male"],"padding":0.51},"axis":{"orient":"bottom","title":null,"labelAngle":0,"labelFontSize":17,"ticks":false,"tickSize":0,"labelPadding":2,"offset":24}}}}
],
"resolve":{"scale":{"x":"independent"},"axis":{"x":"independent"}}},

{"width":135,"height":278,"title":"APOE","transform":[{"filter":"datum.gene === 'APOE'"}],
"layer":[
{"encoding":{"x":{"field":"box","type":"nominal","scale":{"type":"point","domain":["Female C","f1","f2","Female G","g1","g2","g3","g4","Male C","m1","m2","Male G"],"padding":2.58},"axis":{"values":["Female C","Female G","Male C","Male G"],"labelExpr":"datum.value === 'Female C' || datum.value === 'Male C' ? 'C' : 'G'","title":null,"orient":"bottom","labelAngle":0,"labelFontSize":13,"labelFontWeight":"bold","tickSize":7,"labelPadding":3}}},
"layer":[
{"mark":{"type":"rule","color":"#333","strokeWidth":1,"strokeDash":[4,3]},"encoding":{"y":{"field":"lo","type":"quantitative","title":null,"scale":{"domain":[3.375,6.62],"nice":false,"zero":false},"axis":{"values":[3.5,4,4.5,5,5.5,6,6.5],"format":".1f"}},"y2":{"field":"hi"}}},
{"mark":{"type":"tick","orient":"horizontal","size":11,"thickness":1,"color":"#333"},"encoding":{"y":{"field":"lo","type":"quantitative","title":null,"scale":{"domain":[3.375,6.62],"nice":false,"zero":false},"axis":{"values":[3.5,4,4.5,5,5.5,6,6.5],"format":".1f"}}}},
{"mark":{"type":"tick","orient":"horizontal","size":11,"thickness":1,"color":"#333"},"encoding":{"y":{"field":"hi","type":"quantitative","title":null,"scale":{"domain":[3.375,6.62],"nice":false,"zero":false},"axis":{"values":[3.5,4,4.5,5,5.5,6,6.5],"format":".1f"}}}},
{"mark":{"type":"bar","width":24},"encoding":{"y":{"field":"q1","type":"quantitative","title":null,"scale":{"domain":[3.375,6.62],"nice":false,"zero":false},"axis":{"values":[3.5,4,4.5,5,5.5,6,6.5],"format":".1f"}},"y2":{"field":"q3"},"color":{"field":"grp","type":"nominal","scale":{"domain":["C","G"],"range":["#87CEEB","#FFA500"]}}}},
{"mark":{"type":"bar","width":2,"xOffset":-11,"color":"white"},"encoding":{"y":{"field":"nlo","type":"quantitative","title":null,"scale":{"domain":[3.375,6.62],"nice":false,"zero":false},"axis":{"values":[3.5,4,4.5,5,5.5,6,6.5],"format":".1f"}},"y2":{"field":"nhi"}}},
{"mark":{"type":"bar","width":2,"xOffset":11,"color":"white"},"encoding":{"y":{"field":"nlo","type":"quantitative","title":null,"scale":{"domain":[3.375,6.62],"nice":false,"zero":false},"axis":{"values":[3.5,4,4.5,5,5.5,6,6.5],"format":".1f"}},"y2":{"field":"nhi"}}},
{"mark":{"type":"rule","color":"#4d4d4d","xOffset":-12,"x2Offset":12},"encoding":{"x2":{"field":"box"},"y":{"field":"q1","type":"quantitative","title":null,"scale":{"domain":[3.375,6.62],"nice":false,"zero":false},"axis":{"values":[3.5,4,4.5,5,5.5,6,6.5],"format":".1f"}}}},
{"mark":{"type":"rule","color":"#4d4d4d","xOffset":-12,"x2Offset":12},"encoding":{"x2":{"field":"box"},"y":{"field":"q3","type":"quantitative","title":null,"scale":{"domain":[3.375,6.62],"nice":false,"zero":false},"axis":{"values":[3.5,4,4.5,5,5.5,6,6.5],"format":".1f"}}}},
{"mark":{"type":"rule","color":"#4d4d4d","xOffset":-12},"encoding":{"y":{"field":"q1","type":"quantitative","title":null,"scale":{"domain":[3.375,6.62],"nice":false,"zero":false},"axis":{"values":[3.5,4,4.5,5,5.5,6,6.5],"format":".1f"}},"y2":{"field":"nlo"}}},
{"mark":{"type":"rule","color":"#4d4d4d","xOffset":-12},"encoding":{"y":{"field":"nhi","type":"quantitative","title":null,"scale":{"domain":[3.375,6.62],"nice":false,"zero":false},"axis":{"values":[3.5,4,4.5,5,5.5,6,6.5],"format":".1f"}},"y2":{"field":"q3"}}},
{"mark":{"type":"rule","color":"#4d4d4d","xOffset":12},"encoding":{"y":{"field":"q1","type":"quantitative","title":null,"scale":{"domain":[3.375,6.62],"nice":false,"zero":false},"axis":{"values":[3.5,4,4.5,5,5.5,6,6.5],"format":".1f"}},"y2":{"field":"nlo"}}},
{"mark":{"type":"rule","color":"#4d4d4d","xOffset":12},"encoding":{"y":{"field":"nhi","type":"quantitative","title":null,"scale":{"domain":[3.375,6.62],"nice":false,"zero":false},"axis":{"values":[3.5,4,4.5,5,5.5,6,6.5],"format":".1f"}},"y2":{"field":"q3"}}},
{"mark":{"type":"rule","color":"#4d4d4d","xOffset":-12,"x2Offset":-8},"encoding":{"x2":{"field":"box"},"y":{"field":"nlo","type":"quantitative","title":null,"scale":{"domain":[3.375,6.62],"nice":false,"zero":false},"axis":{"values":[3.5,4,4.5,5,5.5,6,6.5],"format":".1f"}},"y2":{"field":"med"}}},
{"mark":{"type":"rule","color":"#4d4d4d","xOffset":-12,"x2Offset":-8},"encoding":{"x2":{"field":"box"},"y":{"field":"nhi","type":"quantitative","title":null,"scale":{"domain":[3.375,6.62],"nice":false,"zero":false},"axis":{"values":[3.5,4,4.5,5,5.5,6,6.5],"format":".1f"}},"y2":{"field":"med"}}},
{"mark":{"type":"rule","color":"#4d4d4d","xOffset":12,"x2Offset":8},"encoding":{"x2":{"field":"box"},"y":{"field":"nlo","type":"quantitative","title":null,"scale":{"domain":[3.375,6.62],"nice":false,"zero":false},"axis":{"values":[3.5,4,4.5,5,5.5,6,6.5],"format":".1f"}},"y2":{"field":"med"}}},
{"mark":{"type":"rule","color":"#4d4d4d","xOffset":12,"x2Offset":8},"encoding":{"x2":{"field":"box"},"y":{"field":"nhi","type":"quantitative","title":null,"scale":{"domain":[3.375,6.62],"nice":false,"zero":false},"axis":{"values":[3.5,4,4.5,5,5.5,6,6.5],"format":".1f"}},"y2":{"field":"med"}}},
{"mark":{"type":"tick","orient":"horizontal","size":17,"thickness":3.5,"color":"black"},"encoding":{"y":{"field":"med","type":"quantitative","title":null,"scale":{"domain":[3.375,6.62],"nice":false,"zero":false},"axis":{"values":[3.5,4,4.5,5,5.5,6,6.5],"format":".1f"}}}},
{"transform":[{"filter":"datum.sig"}],"mark":{"type":"text","text":"*","fontSize":24,"fontWeight":"bold","baseline":"middle","dy":-8},"encoding":{"y":{"field":"hi","type":"quantitative","title":null,"scale":{"domain":[3.375,6.62],"nice":false,"zero":false},"axis":{"values":[3.5,4,4.5,5,5.5,6,6.5],"format":".1f"}}}}
]},
{"mark":{"type":"tick","opacity":0},"encoding":{"x":{"field":"sex","type":"nominal","scale":{"type":"point","domain":["Female","Male"],"padding":0.51},"axis":{"orient":"bottom","title":null,"labelAngle":0,"labelFontSize":17,"ticks":false,"tickSize":0,"labelPadding":2,"offset":24}}}}
],
"resolve":{"scale":{"x":"independent"},"axis":{"x":"independent"}}},

{"width":135,"height":278,"title":"APOH","transform":[{"filter":"datum.gene === 'APOH'"}],
"layer":[
{"encoding":{"x":{"field":"box","type":"nominal","scale":{"type":"point","domain":["Female C","f1","f2","Female G","g1","g2","g3","g4","Male C","m1","m2","Male G"],"padding":2.58},"axis":{"values":["Female C","Female G","Male C","Male G"],"labelExpr":"datum.value === 'Female C' || datum.value === 'Male C' ? 'C' : 'G'","title":null,"orient":"bottom","labelAngle":0,"labelFontSize":13,"labelFontWeight":"bold","tickSize":7,"labelPadding":3}}},
"layer":[
{"mark":{"type":"rule","color":"#333","strokeWidth":1,"strokeDash":[4,3]},"encoding":{"y":{"field":"lo","type":"quantitative","title":null,"scale":{"domain":[3.864,7.65],"nice":false,"zero":false},"axis":{"values":[4,4.5,5,5.5,6,6.5,7,7.5],"format":".1f"}},"y2":{"field":"hi"}}},
{"mark":{"type":"tick","orient":"horizontal","size":11,"thickness":1,"color":"#333"},"encoding":{"y":{"field":"lo","type":"quantitative","title":null,"scale":{"domain":[3.864,7.65],"nice":false,"zero":false},"axis":{"values":[4,4.5,5,5.5,6,6.5,7,7.5],"format":".1f"}}}},
{"mark":{"type":"tick","orient":"horizontal","size":11,"thickness":1,"color":"#333"},"encoding":{"y":{"field":"hi","type":"quantitative","title":null,"scale":{"domain":[3.864,7.65],"nice":false,"zero":false},"axis":{"values":[4,4.5,5,5.5,6,6.5,7,7.5],"format":".1f"}}}},
{"mark":{"type":"bar","width":24},"encoding":{"y":{"field":"q1","type":"quantitative","title":null,"scale":{"domain":[3.864,7.65],"nice":false,"zero":false},"axis":{"values":[4,4.5,5,5.5,6,6.5,7,7.5],"format":".1f"}},"y2":{"field":"q3"},"color":{"field":"grp","type":"nominal","scale":{"domain":["C","G"],"range":["#87CEEB","#FFA500"]}}}},
{"mark":{"type":"bar","width":2,"xOffset":-11,"color":"white"},"encoding":{"y":{"field":"nlo","type":"quantitative","title":null,"scale":{"domain":[3.864,7.65],"nice":false,"zero":false},"axis":{"values":[4,4.5,5,5.5,6,6.5,7,7.5],"format":".1f"}},"y2":{"field":"nhi"}}},
{"mark":{"type":"bar","width":2,"xOffset":11,"color":"white"},"encoding":{"y":{"field":"nlo","type":"quantitative","title":null,"scale":{"domain":[3.864,7.65],"nice":false,"zero":false},"axis":{"values":[4,4.5,5,5.5,6,6.5,7,7.5],"format":".1f"}},"y2":{"field":"nhi"}}},
{"mark":{"type":"rule","color":"#4d4d4d","xOffset":-12,"x2Offset":12},"encoding":{"x2":{"field":"box"},"y":{"field":"q1","type":"quantitative","title":null,"scale":{"domain":[3.864,7.65],"nice":false,"zero":false},"axis":{"values":[4,4.5,5,5.5,6,6.5,7,7.5],"format":".1f"}}}},
{"mark":{"type":"rule","color":"#4d4d4d","xOffset":-12,"x2Offset":12},"encoding":{"x2":{"field":"box"},"y":{"field":"q3","type":"quantitative","title":null,"scale":{"domain":[3.864,7.65],"nice":false,"zero":false},"axis":{"values":[4,4.5,5,5.5,6,6.5,7,7.5],"format":".1f"}}}},
{"mark":{"type":"rule","color":"#4d4d4d","xOffset":-12},"encoding":{"y":{"field":"q1","type":"quantitative","title":null,"scale":{"domain":[3.864,7.65],"nice":false,"zero":false},"axis":{"values":[4,4.5,5,5.5,6,6.5,7,7.5],"format":".1f"}},"y2":{"field":"nlo"}}},
{"mark":{"type":"rule","color":"#4d4d4d","xOffset":-12},"encoding":{"y":{"field":"nhi","type":"quantitative","title":null,"scale":{"domain":[3.864,7.65],"nice":false,"zero":false},"axis":{"values":[4,4.5,5,5.5,6,6.5,7,7.5],"format":".1f"}},"y2":{"field":"q3"}}},
{"mark":{"type":"rule","color":"#4d4d4d","xOffset":12},"encoding":{"y":{"field":"q1","type":"quantitative","title":null,"scale":{"domain":[3.864,7.65],"nice":false,"zero":false},"axis":{"values":[4,4.5,5,5.5,6,6.5,7,7.5],"format":".1f"}},"y2":{"field":"nlo"}}},
{"mark":{"type":"rule","color":"#4d4d4d","xOffset":12},"encoding":{"y":{"field":"nhi","type":"quantitative","title":null,"scale":{"domain":[3.864,7.65],"nice":false,"zero":false},"axis":{"values":[4,4.5,5,5.5,6,6.5,7,7.5],"format":".1f"}},"y2":{"field":"q3"}}},
{"mark":{"type":"rule","color":"#4d4d4d","xOffset":-12,"x2Offset":-8},"encoding":{"x2":{"field":"box"},"y":{"field":"nlo","type":"quantitative","title":null,"scale":{"domain":[3.864,7.65],"nice":false,"zero":false},"axis":{"values":[4,4.5,5,5.5,6,6.5,7,7.5],"format":".1f"}},"y2":{"field":"med"}}},
{"mark":{"type":"rule","color":"#4d4d4d","xOffset":-12,"x2Offset":-8},"encoding":{"x2":{"field":"box"},"y":{"field":"nhi","type":"quantitative","title":null,"scale":{"domain":[3.864,7.65],"nice":false,"zero":false},"axis":{"values":[4,4.5,5,5.5,6,6.5,7,7.5],"format":".1f"}},"y2":{"field":"med"}}},
{"mark":{"type":"rule","color":"#4d4d4d","xOffset":12,"x2Offset":8},"encoding":{"x2":{"field":"box"},"y":{"field":"nlo","type":"quantitative","title":null,"scale":{"domain":[3.864,7.65],"nice":false,"zero":false},"axis":{"values":[4,4.5,5,5.5,6,6.5,7,7.5],"format":".1f"}},"y2":{"field":"med"}}},
{"mark":{"type":"rule","color":"#4d4d4d","xOffset":12,"x2Offset":8},"encoding":{"x2":{"field":"box"},"y":{"field":"nhi","type":"quantitative","title":null,"scale":{"domain":[3.864,7.65],"nice":false,"zero":false},"axis":{"values":[4,4.5,5,5.5,6,6.5,7,7.5],"format":".1f"}},"y2":{"field":"med"}}},
{"mark":{"type":"tick","orient":"horizontal","size":17,"thickness":3.5,"color":"black"},"encoding":{"y":{"field":"med","type":"quantitative","title":null,"scale":{"domain":[3.864,7.65],"nice":false,"zero":false},"axis":{"values":[4,4.5,5,5.5,6,6.5,7,7.5],"format":".1f"}}}},
{"transform":[{"filter":"datum.sig"}],"mark":{"type":"text","text":"*","fontSize":24,"fontWeight":"bold","baseline":"middle","dy":-8},"encoding":{"y":{"field":"hi","type":"quantitative","title":null,"scale":{"domain":[3.864,7.65],"nice":false,"zero":false},"axis":{"values":[4,4.5,5,5.5,6,6.5,7,7.5],"format":".1f"}}}}
]},
{"mark":{"type":"tick","opacity":0},"encoding":{"x":{"field":"sex","type":"nominal","scale":{"type":"point","domain":["Female","Male"],"padding":0.51},"axis":{"orient":"bottom","title":null,"labelAngle":0,"labelFontSize":17,"ticks":false,"tickSize":0,"labelPadding":2,"offset":24}}}}
],
"resolve":{"scale":{"x":"independent"},"axis":{"x":"independent"}}}
]},
{"width":100,"height":1,"data":{"values":[{}]},"mark":{"type":"point","opacity":0},"encoding":{},"view":{"stroke":null},
"title":{"text":["\u200b\u00a0\u00a0\u00a0\u00a0\u00a0\u00a0\u00a0\u00a0\u00a0\u00a0\u00a0Levels of four apolipoproteins were significantly increased in African American subjects with primary open angle glaucoma (G) compared","to subjects with cataracts alone, the controls (C). Levels of two apolipoproteins were significantly decreased in Caucasian subjects with primary","open angle glaucoma compared to subjects with cataracts alone. The boxplots depict the distribution of protein levels in each group"],"anchor":"start","orient":"top","font":"Open Sans","fontSize":18.9,"fontWeight":"normal","color":"#444","lineHeight":25,"offset":0,"dx":-61,"limit":1300}}
],
"config":{
"font":"Liberation Sans",
"view":{"stroke":"#4a4a4a","strokeWidth":1.3},
"title":{"fontSize":19,"fontWeight":"bold","color":"black","offset":3,"font":"Liberation Sans"},
"axis":{"grid":false,"labelColor":"black","tickColor":"#333","domain":false,"labelFont":"Liberation Sans","titleFont":"Liberation Sans","titleColor":"black"},
"axisY":{"labelAngle":270,"labelAlign":"center","labelBaseline":"bottom","labelPadding":5,"tickSize":7,"labelFontSize":15,"labelOverlap":false}
}
}
